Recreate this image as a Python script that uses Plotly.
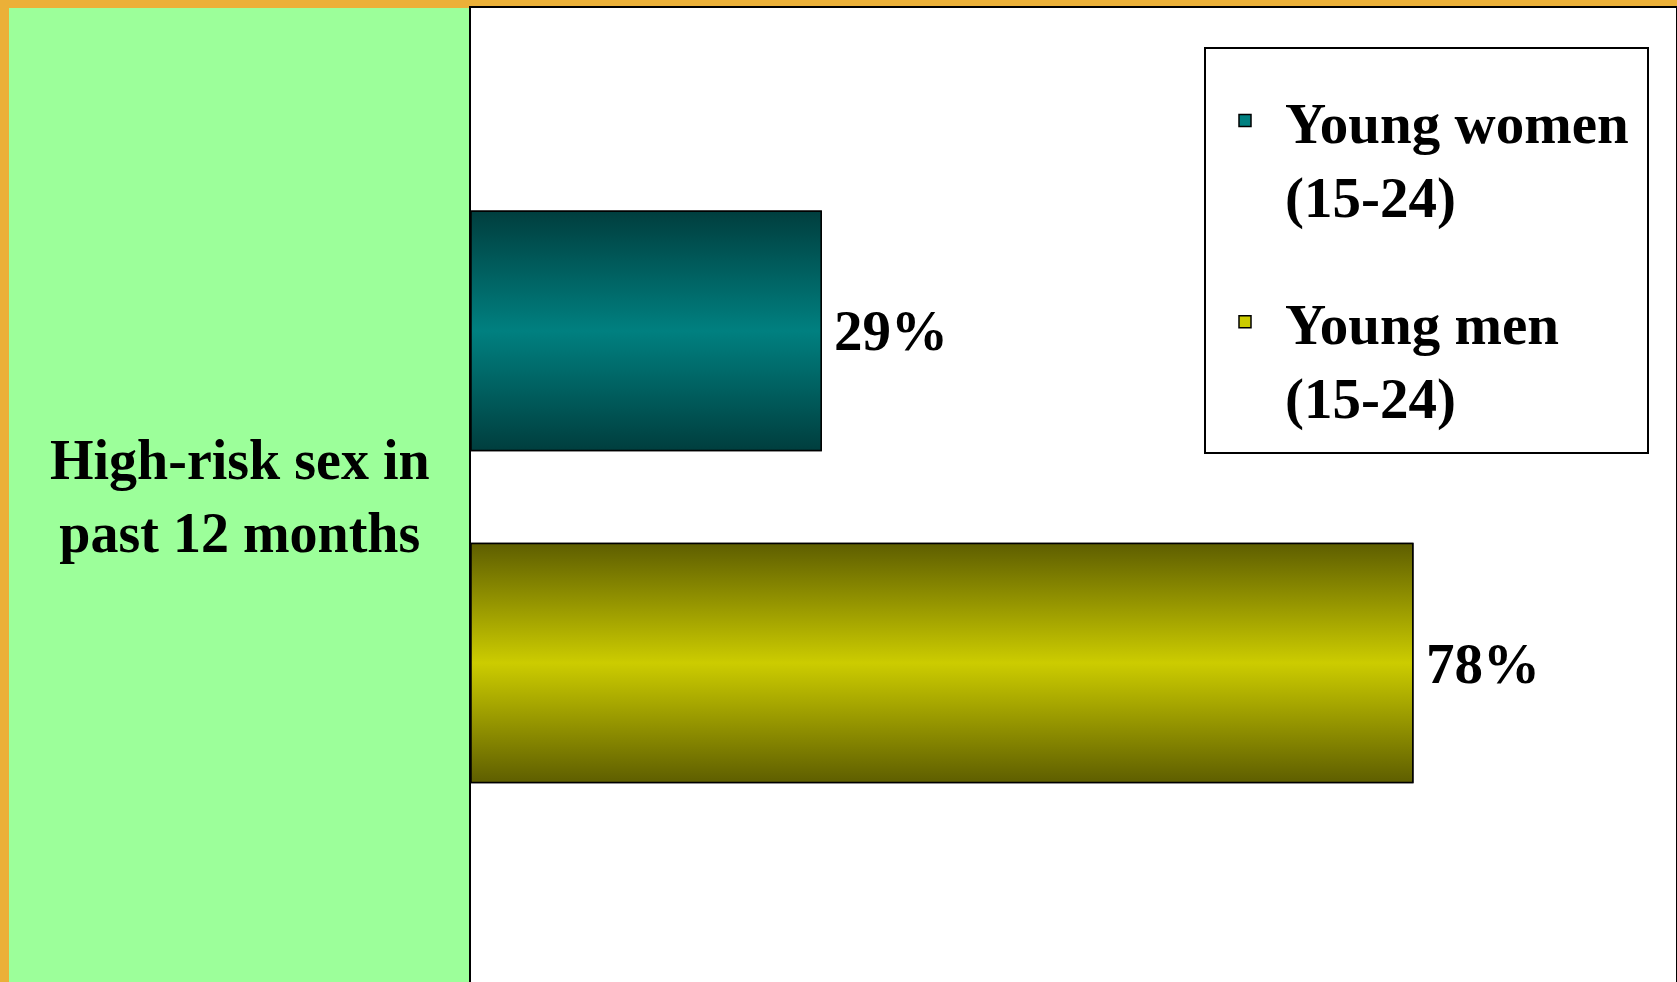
import plotly.graph_objects as go

# ---- data ----
categories = ["High-risk sex in past 12 months"]
category_labels = ["High-risk sex in<br>past 12 months"]
series_names = ["Young women<br>(15-24)", "Young men<br>(15-24)"]
women_values = [29]
men_values = [78]

# ---- styles ----
FONT = "Liberation Serif, Times New Roman, serif"
mid_colors = ["#008080", "#CCCC00"]
edge_colors = ["#003E3E", "#5E5E00"]
BARGAP = 0.318
BARGROUPGAP = 0.28
W, H = 1677, 982
ML, MR, MT, MB = 471, 1, 8, 0
PW, PH = W - ML - MR, H - MT - MB
XMAX = 99.8
YRANGE = [0.498, -0.502]


def px_x(px):
    return (px - ML) / PW


def px_y(py):
    return (H - MB - py) / PH


fig = go.Figure()
all_values = [women_values, men_values]
for i, (name, vals) in enumerate(zip(series_names, all_values)):
    fig.add_trace(go.Bar(
        y=categories, x=vals, name=name, orientation="h",
        legendgroup=f"g{i}",
        marker=dict(color=mid_colors[i], line=dict(color="black", width=1.5)),
        hoverinfo="skip",
    ))

# vertical gradient overlay + value labels for each bar, derived from values and bar layout
n = len(all_values)
slot = (1 - BARGAP) / n
half = slot * (1 - BARGROUPGAP) / 2
for i, vals in enumerate(all_values):
    for j, v in enumerate(vals):
        c = j - (1 - BARGAP) / 2 + slot * (i + 0.5)
        fig.add_trace(go.Scatter(
            x=[0, v, v, 0, 0], y=[c - half, c - half, c + half, c + half, c - half],
            yaxis="y2", mode="lines", fill="toself",
            line=dict(color="black", width=1.5),
            fillgradient=dict(type="vertical", colorscale=[
                [0, edge_colors[i]], [0.5, mid_colors[i]], [1, edge_colors[i]]]),
            showlegend=False, hoverinfo="skip",
        ))
        fig.add_annotation(
            x=v, xref="x", y=c, yref="y2", xanchor="left", yanchor="middle",
            xshift=11, text=f"{v}%", showarrow=False,
            font=dict(family=FONT, size=57, color="black", weight="bold"),
        )

# category label in the green panel
for cat, lab in zip(categories, category_labels):
    fig.add_annotation(
        x=px_x(240), xref="paper", xanchor="center",
        y=cat, yref="y", yanchor="middle",
        text=lab, showarrow=False, align="center",
        font=dict(family=FONT, size=56, color="black", weight="bold"),
    )

# green label panel and legend frame
fig.add_shape(type="rect", xref="paper", yref="paper",
              x0=px_x(9), x1=0, y0=0, y1=1,
              fillcolor="#9CFF9A", line=dict(width=0), layer="below")
fig.add_shape(type="rect", xref="paper", yref="paper",
              x0=px_x(1205), x1=px_x(1648), y0=px_y(453), y1=px_y(48),
              fillcolor="rgba(0,0,0,0)", line=dict(color="black", width=2),
              layer="above")

fig.update_layout(
    width=W, height=H,
    margin=dict(l=ML, r=MR, t=MT, b=MB, pad=0),
    paper_bgcolor="#EBB038", plot_bgcolor="white",
    barmode="group", bargap=BARGAP, bargroupgap=BARGROUPGAP,
    showlegend=True,
    legend=dict(
        x=px_x(1205), xanchor="left",
        y=px_y(77), yanchor="top",
        bgcolor="rgba(0,0,0,0)", borderwidth=0,
        font=dict(family=FONT, size=57, color="black", weight="bold"),
        itemwidth=70, tracegroupgap=50, traceorder="grouped", valign="top",
    ),
    xaxis=dict(range=[0, XMAX], showgrid=False, zeroline=False,
               showticklabels=False, ticks="", showline=True, mirror=True,
               linecolor="black", linewidth=2),
    yaxis=dict(range=YRANGE, showgrid=False, zeroline=False,
               showticklabels=False, ticks="", showline=True, mirror=True,
               linecolor="black", linewidth=2),
    yaxis2=dict(range=YRANGE, overlaying="y", visible=False),
)

fig.write_html("out.html")
